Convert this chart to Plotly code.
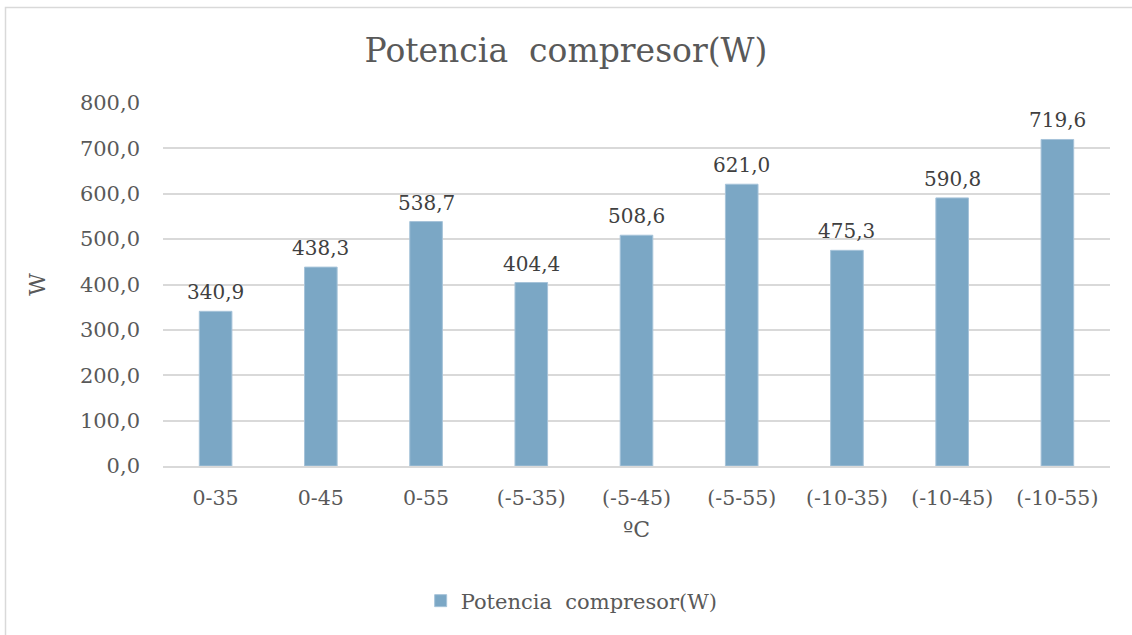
import plotly.graph_objects as go

categories = ["0-35", "0-45", "0-55", "(-5-35)", "(-5-45)", "(-5-55)",
              "(-10-35)", "(-10-45)", "(-10-55)"]
potencia = [340.9, 438.3, 538.7, 404.4, 508.6, 621.0, 475.3, 590.8, 719.6]
y_ticks = [0, 100, 200, 300, 400, 500, 600, 700, 800]

FONT = "DejaVu Serif"
W, H = 1132, 635
L, R, T, B = 163, 22, 103, 169
pw, ph = W - L - R, H - T - B

fig = go.Figure(go.Bar(
    x=categories,
    y=potencia,
    name="Potencia  compresor(W)",
    marker=dict(color="#7BA7C5", line=dict(color="#A6C3D9", width=1)),
    cliponaxis=False,
))

# value labels above each bar
for cat, val in zip(categories, potencia):
    fig.add_annotation(
        x=cat, y=val, xref="x", yref="y",
        text=f"{val:.1f}".replace(".", ","),
        showarrow=False, yanchor="bottom", yshift=5,
        font=dict(family=FONT, size=20, color="#404040"),
    )

# outer chart frame
fig.add_shape(
    type="rect", xref="paper", yref="paper",
    x0=(5.5 - L) / pw, x1=(W + 5 - L) / pw,
    y0=-(H + 5 - T - ph) / ph, y1=(H - 7.5 - B) / ph,
    line=dict(color="#D9D9D9", width=1.5), layer="below",
)

fig.update_layout(
    width=W, height=H,
    margin=dict(l=L, r=R, t=T, b=B),
    paper_bgcolor="white", plot_bgcolor="white",
    separators=",.",
    bargap=0.69,
    font=dict(family=FONT, color="#595959"),
    title=dict(
        text="Potencia  compresor(W)",
        x=0.5, xref="container", xanchor="center",
        y=1 - 50 / H, yref="container", yanchor="middle",
        font=dict(family=FONT, size=33, color="#595959"),
    ),
    showlegend=True,
    legend=dict(
        orientation="h",
        xref="container", x=0.505, xanchor="center",
        yref="container", y=1 - 601 / H, yanchor="middle",
        font=dict(family=FONT, size=21, color="#595959"),
        itemwidth=30,
    ),
    xaxis=dict(
        showgrid=False,
        showline=True, linecolor="#D9D9D9", linewidth=1.5,
        ticks="", ticklabelstandoff=13,
        tickfont=dict(family=FONT, size=20.5, color="#595959"),
        title=dict(text="ºC", standoff=12,
                   font=dict(family=FONT, size=22, color="#595959")),
    ),
    yaxis=dict(
        range=[0, 800],
        tickvals=y_ticks,
        tickformat=".1f",
        showgrid=True, gridcolor="#D9D9D9", gridwidth=1.5,
        zeroline=False,
        ticks="", ticklabelstandoff=22,
        tickfont=dict(family=FONT, size=21, color="#595959"),
        title=dict(text="W", standoff=28,
                   font=dict(family=FONT, size=22, color="#595959")),
    ),
)

fig.write_html("out.html")
